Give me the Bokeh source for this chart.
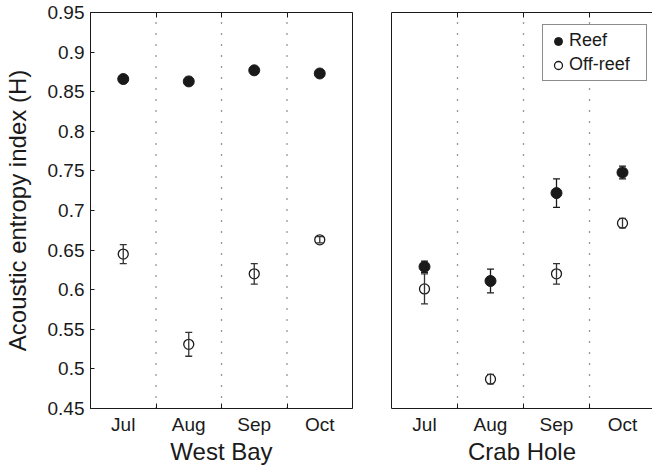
from bokeh.plotting import figure
from bokeh.models import (Range1d, FixedTicker, LinearAxis, Whisker, TeeHead,
                          ColumnDataSource, Legend, LegendItem)
from bokeh.layouts import row
from bokeh.embed import file_html
from bokeh.resources import INLINE

# ---------------- data ----------------
months = ["Jul", "Aug", "Sep", "Oct"]
sites = ["West Bay", "Crab Hole"]
y_ticks = [0.45, 0.5, 0.55, 0.6, 0.65, 0.7, 0.75, 0.8, 0.85, 0.9, 0.95]
y_tick_labels = ["0.45", "0.5", "0.55", "0.6", "0.65", "0.7", "0.75", "0.8", "0.85", "0.9", "0.95"]
y_title = "Acoustic entropy index (H)"

wb_reef = [0.866, 0.863, 0.877, 0.873]
wb_reef_err = [0.004, 0.005, 0.004, 0.004]
wb_off = [0.645, 0.531, 0.620, 0.663]
wb_off_err = [0.012, 0.015, 0.013, 0.004]

ch_reef = [0.629, 0.611, 0.722, 0.748]
ch_reef_err = [0.007, 0.015, 0.018, 0.008]
ch_off = [0.601, 0.487, 0.620, 0.684]
ch_off_err = [0.019, 0.006, 0.013, 0.006]

FONT = "Liberation Sans"
INK = "#1a1a1a"
H = 468
TOP = 12
FRAME_H = 396


def make_panel(site, reef, reef_err, off, off_err, first, width, bl, br, xmax):
    xs = [i + 0.5 for i in range(len(months))]
    bounds = [float(i) for i in range(1, len(months))]
    y0, y1 = y_ticks[0], y_ticks[-1]
    p = figure(width=width, height=H, x_range=Range1d(0, xmax),
               y_range=Range1d(y0, y1),
               output_backend="svg", toolbar_location=None,
               x_axis_location=None, y_axis_location=None,
               min_border_left=bl, min_border_right=br,
               min_border_top=TOP, min_border_bottom=H - TOP - FRAME_H)
    p.grid.visible = False
    p.background_fill_color = "white"
    p.border_fill_color = "white"
    p.outline_line_color = INK if first else None

    # dotted separators between months
    for b in bounds:
        p.line([b, b], [y0, y1], line_color="#333333",
               line_width=1.3, line_dash="1 10")

    # bottom axis with month labels, boundary minor ticks
    bottom = LinearAxis(ticker=FixedTicker(ticks=xs, minor_ticks=bounds),
                        major_label_overrides={x: m for x, m in zip(xs, months)},
                        major_tick_in=0, major_tick_out=0,
                        minor_tick_in=5, minor_tick_out=0,
                        minor_tick_line_color=INK,
                        axis_line_color=INK,
                        major_label_text_font=FONT,
                        major_label_text_font_size="19px",
                        major_label_text_color=INK,
                        major_label_standoff=5,
                        axis_label=site, axis_label_text_font=FONT,
                        axis_label_text_font_size="24px",
                        axis_label_text_font_style="normal",
                        axis_label_text_color=INK,
                        axis_label_standoff=0)
    p.add_layout(bottom, "below")
    top = LinearAxis(ticker=FixedTicker(ticks=[], minor_ticks=bounds),
                     major_tick_in=0, major_tick_out=0,
                     minor_tick_in=5, minor_tick_out=0,
                     minor_tick_line_color=INK, axis_line_color=INK,
                     major_label_standoff=0)
    p.add_layout(top, "above")

    if first:
        left = LinearAxis(ticker=FixedTicker(ticks=y_ticks),
                          axis_line_color=INK,
                          major_tick_in=4, major_tick_out=0,
                          major_tick_line_color=INK,
                          minor_tick_line_color=None,
                          major_label_overrides={t: s for t, s in zip(y_ticks, y_tick_labels)},
                          major_label_text_font=FONT,
                          major_label_text_font_size="19px",
                          major_label_text_color=INK,
                          major_label_standoff=6,
                          axis_label=y_title,
                          axis_label_text_font=FONT,
                          axis_label_text_font_size="24px",
                          axis_label_text_font_style="normal",
                          axis_label_text_color=INK,
                          axis_label_standoff=14)
    else:
        left = LinearAxis(ticker=FixedTicker(ticks=[]), axis_line_color=INK,
                          major_tick_in=0, major_tick_out=0,
                          minor_tick_line_color=None, major_label_standoff=0)
    p.add_layout(left, "left")

    src_off = ColumnDataSource(dict(x=xs, y=off,
                                    lo=[v - e for v, e in zip(off, off_err)],
                                    hi=[v + e for v, e in zip(off, off_err)]))
    src_reef = ColumnDataSource(dict(x=xs, y=reef,
                                     lo=[v - e for v, e in zip(reef, reef_err)],
                                     hi=[v + e for v, e in zip(reef, reef_err)]))
    for src, col in ((src_off, "#333333"), (src_reef, INK)):
        w = Whisker(source=src, base="x", lower="lo", upper="hi",
                    dimension="height", line_color=col, line_width=1.3,
                    upper_head=TeeHead(size=7, line_color=col, line_width=1.3),
                    lower_head=TeeHead(size=7, line_color=col, line_width=1.3),
                    level="glyph")
        p.add_layout(w)

    r_off = p.scatter("x", "y", source=src_off, size=10, marker="circle",
                      fill_color=None, line_color=INK, line_width=1.3)
    r_reef = p.scatter("x", "y", source=src_reef, size=11, marker="circle",
                       fill_color=INK, line_color=INK)

    if not first:
        leg = Legend(items=[LegendItem(label="Reef", renderers=[r_reef]),
                            LegendItem(label="Off-reef", renderers=[r_off])],
                     location=(151, FRAME_H - 16 - 53), orientation="vertical",
                     label_text_font=FONT, label_text_font_size="18px",
                     label_text_color=INK, label_standoff=1,
                     label_width=72, label_height=20,
                     glyph_width=20, glyph_height=20, spacing=3,
                     padding=5, margin=0,
                     border_line_color=INK, border_line_width=1,
                     background_fill_alpha=1.0)
        p.add_layout(leg)
    return p


p1 = make_panel(sites[0], wb_reef, wb_reef_err, wb_off, wb_off_err, True,
                372, 88, 20, 4.0)
p2 = make_panel(sites[1], ch_reef, ch_reef_err, ch_off, ch_off_err, False,
                280, 19, 0, 261 / 66)

layout = row(p1, p2)
open("out.html", "w").write(file_html(layout, INLINE))
